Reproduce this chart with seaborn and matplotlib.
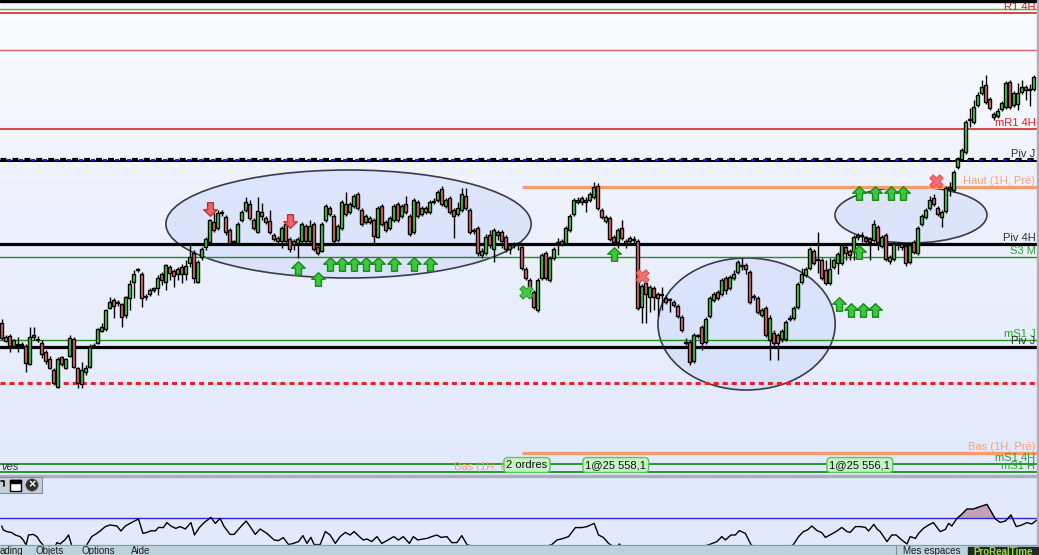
import numpy as np
import pandas as pd
import matplotlib
matplotlib.use("Agg")
import matplotlib.pyplot as plt
import seaborn as sns
from matplotlib.patches import Ellipse, Rectangle, Circle
from matplotlib.path import Path
from matplotlib.colors import LinearSegmentedColormap
import matplotlib.transforms as mtransforms

# ------------------------------------------------------------------ data
opens = [277,259,264,254,255,256,254,236,265,260,
         257,248,241,230,213,243,232,244,261,232,
         216,228,233,254,257,269,271,292,300,297,
         296,285,302,318,330,326,304,306,312,312,
         326,318,333,329,326,333,326,337,347,318,
         343,353,358,378,372,387,383,370,358,357,
         380,390,396,380,368,388,382,379,365,359,
         359,376,361,356,357,359,374,359,376,353,
         349,380,392,384,360,372,396,388,394,406,
         390,378,382,380,363,394,378,372,380,396,
         384,396,384,368,398,386,392,388,398,400,
         411,394,402,390,386,390,404,390,370,372,
         345,347,365,351,368,368,363,351,355,356,
         353,331,320,308,290,322,347,320,342,357,
         356,357,370,386,398,402,400,400,403,414,
         390,379,382,363,358,372,359,359,360,359,
         293,317,303,312,306,305,302,300,298,294,
         283,258,258,239,264,273,258,284,300,308,
         306,322,312,322,328,334,335,328,303,302,
         285,292,260,267,265,261,261,281,282,293,
         318,325,332,349,340,340,330,317,333,337,
         337,353,349,348,363,364,362,361,360,373,
         354,365,339,341,356,356,354,338,358,347,
         376,383,392,402,392,383,389,411,410,433,
         441,448,480,478,495,507,515,501,486,484,
         491,493,518,495,496,508,513,511,511]
highs = [281,265,266,261,263,258,256,273,273,264,
         260,250,244,232,243,244,242,265,263,233,
         238,235,256,257,272,277,291,303,302,300,
         297,304,320,330,332,328,306,312,313,325,
         328,336,335,331,333,336,340,355,350,340,
         353,363,381,387,390,390,385,372,360,378,
         390,403,400,382,403,397,384,390,367,364,
         374,378,363,361,363,378,376,380,378,355,
         378,396,394,386,376,400,408,398,406,408,
         392,386,384,382,394,396,380,384,396,398,
         396,404,386,402,400,394,394,400,402,410,
         414,402,404,392,398,412,412,392,372,374,
         352,366,370,372,370,370,365,357,358,358,
         356,333,322,310,322,347,349,344,353,362,
         361,374,386,402,403,404,403,408,418,417,
         392,385,384,365,372,380,361,364,364,361,
         316,319,315,314,308,313,305,302,300,296,
         285,262,260,267,266,275,283,304,308,310,
         322,324,325,330,340,342,337,330,306,304,
         292,294,285,270,267,271,280,285,294,318,
         332,333,353,351,368,342,340,342,342,348,
         357,355,351,365,367,368,364,363,380,375,
         365,367,345,358,358,358,356,357,360,374,
         386,392,404,406,394,390,414,418,430,443,
         452,480,492,500,508,520,525,503,488,492,
         499,519,520,509,517,520,515,516,525]
lows = [260,258,248,252,248,253,228,235,260,258,
        242,236,231,215,212,234,231,243,232,212,
        212,225,232,252,256,268,269,291,282,294,
        273,282,290,302,328,293,300,304,308,305,
        315,310,320,313,320,317,320,333,317,317,
        340,350,356,368,370,384,365,355,355,356,
        378,388,380,370,367,380,376,366,359,355,
        352,357,348,350,342,357,357,357,349,345,
        348,378,384,357,358,370,384,386,392,390,
        374,376,376,355,362,374,368,370,378,378,
        382,386,364,366,382,384,386,386,396,398,
        394,392,386,362,384,388,390,366,366,344,
        342,345,352,338,360,352,348,346,352,350,
        330,320,309,291,288,320,320,318,340,345,
        354,355,368,384,396,395,388,398,401,390,
        381,377,359,356,352,360,352,357,356,290,
        277,277,288,290,284,290,296,288,293,282,
        268,255,235,237,262,250,256,282,298,300,
        304,306,310,320,326,330,326,296,300,286,
        283,263,240,252,240,258,259,279,280,291,
        316,323,330,335,327,320,315,315,331,326,
        335,340,340,340,360,358,355,340,358,350,
        352,339,336,339,350,350,334,336,346,345,
        374,381,390,394,384,373,387,404,408,431,
        439,446,473,476,493,505,496,490,480,482,
        489,491,491,493,490,506,500,494,509]
closes = [262,263,254,260,256,255,237,263,263,261,
          246,239,232,217,241,236,241,262,233,217,
          230,232,253,255,271,273,290,298,294,297,
          283,303,316,326,330,302,303,310,310,322,
          320,335,327,324,331,326,334,343,322,338,
          351,361,380,370,387,388,368,357,358,376,
          388,398,382,372,389,384,378,368,361,362,
          372,359,351,359,361,376,359,374,351,347,
          376,394,386,359,374,398,386,396,404,392,
          376,384,378,364,392,376,370,382,394,380,
          394,388,366,400,384,392,388,398,399,408,
          396,400,388,384,392,406,392,368,369,347,
          349,363,355,370,365,359,351,355,355,356,
          332,322,311,293,320,345,322,342,351,358,
          359,372,384,400,400,398,398,406,413,392,
          383,383,361,358,370,362,357,362,360,292,
          314,306,313,303,302,305,298,300,295,284,
          270,257,238,265,264,257,281,302,306,302,
          320,310,323,326,338,334,331,298,303,288,
          290,265,282,257,257,269,278,282,292,316,
          326,331,351,337,340,322,317,331,340,346,
          355,347,345,363,365,364,359,358,376,358,
          363,341,343,356,356,353,337,355,348,372,
          384,390,400,396,386,388,412,413,428,441,
          450,478,481,493,505,513,498,492,483,489,
          497,517,493,507,507,513,510,510,523]

# horizontal reference levels (price units) and their right-hand labels
level_values = [591, 587, 550, 471, 440, 413, 356, 343, 260, 253, 217, 147, 136, 128]
level_labels = ["", "R1 4H", "", "mR1 4H", "Piv J", "Haut (1H, Pré)", "Piv 4H",
                "S3 M", "mS1 J", "Piv J", "", "Bas (1H, Pré)", "mS1 4H", "mS1 H"]
prev_hour_start = 130   # candle where the previous-hour high/low lines begin

# hand-drawn ellipses (candle index / price units)
ell_x = [86.7, 186.2, 227.3]
ell_y = [376, 276, 385]
ell_w = [91.3, 44.3, 38.0]
ell_h = [108, 132, 56]

# signals
buy_x = [74.1, 79.1, 82.1, 85.1, 88.1, 91.1, 94.1, 98.1, 103.1, 107.1, 153.1,
         214.3, 218.3, 222.3, 225.3, 214.3, 209.3, 212.3, 215.3, 218.3]
buy_y = [332, 321, 336, 336, 336, 336, 336, 336, 336, 336, 346,
         407, 407, 407, 407, 348, 296, 290, 290, 290]
sell_x = [52.1, 72.1]
sell_y = [391, 379]
exit_win_x, exit_win_y = [131.1], [308]
exit_loss_x, exit_loss_y = [160.1, 233.6], [324, 419]

order_labels = ["2 ordres", "1@25 558,1", "1@25 556,1"]
order_x = [131.3, 153.5, 214.5]
order_y = 135

# oscillator pane
ind_x = [0, 0.4, 1.3, 2.5, 3.4, 4.6, 5.4, 6.1, 6.7, 7.9, 8.8, 9.6, 10.4, 12.0, 13.8, 14.6, 15.9,
         16.7, 17.5, 19.6, 21.3, 22.5, 23.8, 24.6, 25.9, 27.1, 28.8, 29.8, 30.9, 32.1, 32.9, 34.2,
         35.3, 36.3, 37.5, 38.4, 39.2, 40.4, 41.3, 42.3, 43.5, 44.6, 45.9, 47.3, 48.2, 49.4, 50.6,
         52.3, 53.4, 54.6, 55.6, 57.1, 58.1, 59.6, 61.1, 62.1, 63.4, 64.6, 66.3, 68.1, 69.2, 70.4,
         71.7, 72.9, 74.2, 75.3, 76.3, 77.3, 78.1, 79.6, 80.9, 82.1, 83.4, 84.6, 85.9, 87.1, 88.1,
         89.4, 90.4, 91.3, 92.5, 93.8, 95.0, 96.3, 98.0, 99.2, 100.4, 101.9, 102.9, 104.0, 105.3,
         106.3, 107.5, 108.8, 109.8, 111.3, 112.5, 113.8, 115.0, 116.3, 127.0, 137.5, 138.8, 140.4,
         141.7, 143.4, 145.0, 146.3, 148.1, 149.2, 150.4, 151.7, 152.5, 153.5, 154.4, 155.3, 165.0,
         176.9, 178.8, 180.0, 180.9, 182.3, 183.4, 184.4, 185.9, 187.3, 192.0, 197.9, 199.2, 200.4,
         201.4, 202.5, 203.8, 205.0, 205.9, 207.3, 208.8, 210.0, 211.3, 212.1, 213.4, 214.6, 215.9,
         216.7, 218.0, 218.9, 219.6, 221.3, 222.5, 223.6, 225.0, 226.3, 227.1, 228.4, 229.2, 230.4,
         231.7, 232.9, 234.6, 235.9, 236.7, 237.5, 238.8, 239.8, 241.3, 242.9, 244.6, 246.3, 247.1,
         248.4, 249.6, 250.9, 252.3, 253.6, 255.0, 256.3, 257.5, 258.8]
ind_v = [66.0, 64.0, 63.2, 62.7, 61.5, 60.7, 59.0, 56.5, 61.5, 61.8, 60.7, 58.2, 56.3, 50, 57.7, 57.0, 59.3,
         61.5, 56.3, 50, 56.7, 60.7, 62.3, 63.5, 65.7, 66.5, 66.0, 63.5, 66.0, 67.3, 68.2, 69.5,
         62.3, 62.8, 63.7, 63.5, 65.3, 65.2, 67.7, 66.0, 64.8, 65.7, 64.5, 67.7, 61.5, 65.2, 67.7,
         70.3, 67.3, 69.8, 65.7, 61.8, 61.8, 65.3, 68.5, 65.7, 61.8, 64.5, 62.3, 59.0, 58.7, 60.2,
         56.7, 57.3, 58.2, 61.2, 57.3, 60.3, 56.7, 56.7, 63.2, 61.5, 57.3, 60.7, 62.8, 61.5, 63.2,
         60.7, 59.0, 59.5, 58.2, 60.7, 57.3, 58.7, 60.7, 59.0, 60.7, 57.3, 60.7, 59.0, 59.5,
         59.8, 60.7, 61.5, 60.3, 60.7, 57.7, 57.7, 61.2, 56.7, 50, 56.7, 59.0, 59.8,
         60.7, 65.2, 65.2, 65.7, 67.3, 61.5, 60.3, 57.3, 56.3, 55, 57.0, 55, 50,
         56.7, 58.2, 60.7, 59.0, 61.5, 61.5, 63.7, 62.3, 56.7, 50, 56.7, 60.7, 63.2,
         64.0, 66.0, 63.7, 62.7, 60.3, 61.8, 63.5, 65.3, 63.2, 62.8, 65.7, 65.7, 65.3,
         63.5, 66.8, 64.3, 63.2, 58.2, 61.5, 61.5, 59.0, 57.0, 60.7, 59.8, 62.3, 64.8,
         66.5, 67.7, 63.2, 64.3, 67.3, 66.0, 69.8, 71.5, 74.5, 74.5, 75.7, 76.8, 74.0,
         69.5, 67.8, 68.5, 71.5, 65.7, 66.5, 67.7, 67.0, 69.0]
ind_level = 70

# ------------------------------------------------------------------ style
W, H = 1039, 555
sns.set_style("white")
plt.rcParams['font.family'] = ['Liberation Sans', 'DejaVu Sans']
plt.rcParams['lines.scale_dashes'] = False

fig = plt.figure(figsize=(W / 100, H / 100), dpi=100, facecolor='#F6F8FC')


def box(x0, y0, x1, y1):
    return [x0 / W, 1 - y1 / H, (x1 - x0) / W, (y1 - y0) / H]


XLIM = (-0.425, 258.8)
ax = fig.add_axes(box(0, 2, 1037, 475))
iax = fig.add_axes(box(0, 477, 1037, 545))

# background gradient of price pane
grad = np.linspace(0, 1, 256).reshape(-1, 1)
bg = LinearSegmentedColormap.from_list('bg', ['#E2E9FC', '#ECF0FD', '#FBFCFF'])
ax.imshow(grad, extent=(0, 1, 0, 1), transform=ax.transAxes, cmap=bg,
          aspect='auto', origin='lower', zorder=0)

o = np.array(opens, float); h = np.array(highs, float)
l = np.array(lows, float); c = np.array(closes, float)
idx = np.arange(len(o))

# ellipses
for ex, ey, ew, eh in zip(ell_x, ell_y, ell_w, ell_h):
    ax.add_patch(Ellipse((ex, ey), ew, eh, facecolor=(0.78, 0.84, 0.98, 0.45),
                         edgecolor='#3A3C48', lw=1.2, zorder=1))

# levels
blend = mtransforms.blended_transform_factory(ax.transAxes, ax.transData)
green = '#1E8C1E'
lab_green = '#2BA02B'
red = '#D81414'
orange = '#F89A6A'
dark = '#2E2E2E'
line_styles = [
    dict(color='#4DB04D', lw=1.0),
    dict(color=red, lw=1.1),
    dict(color='#E06464', lw=1.0),
    dict(color=red, lw=1.1),
    None,  # pivot J (composite)
    dict(color=orange, lw=2.3),
    dict(color='black', lw=2.3),
    dict(color=green, lw=1.0),
    dict(color=green, lw=1.0),
    dict(color='black', lw=2.3),
    dict(color='#E82020', lw=2.2, linestyle=(0, (3.6, 2.9))),
    dict(color=orange, lw=2.3),
    dict(color=green, lw=1.3),
    dict(color=green, lw=1.3),
]
label_colors = [None, '#E81818', None, '#E81818', dark, '#F5A476', dark,
                lab_green, lab_green, dark, None, '#F5A476', lab_green, lab_green]

for k, (val, lab) in enumerate(zip(level_values, level_labels)):
    st = line_styles[k]
    if st is None:
        ax.axhline(val - 1, color='black', lw=1.4, zorder=2.5)
        ax.axhline(val + 1.5, color='black', lw=2.3, linestyle=(0, (4.3, 4.3)), zorder=2.6)
        ax.axhline(val + 0.2, color='#1414E6', lw=1.5, linestyle=(3.56, (2.9, 5.74)), zorder=2.7)
    elif lab.startswith(('Haut', 'Bas')):
        ax.hlines(val, prev_hour_start, XLIM[1], zorder=2.5, **st)
    else:
        ax.axhline(val, zorder=2.5, **st)
    if lab:
        ax.text(0.9985, val + 1.2, lab, transform=blend, ha='right', va='bottom',
                fontsize=8, color=label_colors[k], zorder=7)

# candles
up = c >= o
body_lo = np.minimum(o, c)
body_h = np.maximum(np.abs(c - o), 0.7)
ax.vlines(idx, l, h, color='black', lw=1.0, zorder=3)
ax.bar(idx[up], body_h[up], bottom=body_lo[up], width=0.84, color='#50D250',
       edgecolor='black', linewidth=1.0, zorder=4)
ax.bar(idx[~up], body_h[~up], bottom=body_lo[~up], width=0.84, color='#E26E6E',
       edgecolor='black', linewidth=1.0, zorder=4)

# signal markers
arrow_up = Path([(-0.22, -0.5), (0.22, -0.5), (0.22, 0.02), (0.5, 0.02), (0, 0.5),
                 (-0.5, 0.02), (-0.22, 0.02), (-0.22, -0.5)],
                [Path.MOVETO] + [Path.LINETO] * 6 + [Path.CLOSEPOLY])
arrow_dn = Path([(x, -y) for x, y in arrow_up.vertices], arrow_up.codes)
ax.scatter(buy_x, buy_y, marker=arrow_up, s=95, facecolor='#3CC83C',
           edgecolor='#178A17', linewidth=1.0, zorder=5)
ax.scatter(sell_x, sell_y, marker=arrow_dn, s=95, facecolor='#F06464',
           edgecolor='#C03434', linewidth=1.0, zorder=5)
ax.scatter(exit_win_x, exit_win_y, marker='X', s=90, facecolor='#46C846',
           edgecolor='#2A9A2A', linewidth=0.8, zorder=5)
ax.scatter(exit_loss_x, exit_loss_y, marker='X', s=90, facecolor='#F07070',
           edgecolor='#E05050', linewidth=0.8, zorder=5)

# order tags
ax.text(130.0, order_y - 2, 'Bas (1H, Pré)', ha='right', va='center', fontsize=8,
        color='#F5A476', zorder=5)
ax.text(0.001, order_y - 2, 'ves', transform=blend, ha='left', va='center', fontsize=8,
        color='#303030', style='italic', zorder=5)
for lab, ox in zip(order_labels, order_x):
    ax.text(ox, order_y, lab, ha='center', va='center', fontsize=8, color='#111111', zorder=6,
            bbox=dict(boxstyle='round,pad=0.22,rounding_size=0.35', fc='#C8F2C8',
                      ec='#58C858', lw=1.0))

ax.set_xlim(*XLIM)
ax.set_ylim(125, 598)
ax.axis('off')

# ------------------------------------------------------------------ oscillator pane
iax.set_facecolor('#E3E9FC')
iax.axhline(ind_level, color='#2A2AE6', lw=1.0, zorder=2)
iv = np.array(ind_v)
ix = np.array(ind_x)
iax.fill_between(ix, ind_level, iv, where=iv > ind_level, interpolate=True,
                 color='#C2A2B4', zorder=1)
sns.lineplot(x=ix, y=iv, ax=iax, color='black', lw=1.0, estimator=None, sort=False, zorder=3)
iax.set_xlim(*XLIM)
iax.set_ylim(56.5, 90.5)
iax.set_xticks([]); iax.set_yticks([])
iax.set_xlabel(''); iax.set_ylabel('')
for s in iax.spines.values():
    s.set_visible(False)

# ------------------------------------------------------------------ window chrome
deco = fig.add_axes([0, 0, 1, 1], zorder=10)
deco.set_xlim(0, W); deco.set_ylim(H, 0); deco.axis('off')
deco.add_patch(Rectangle((0, 0), W, 2, color='black'))
deco.add_patch(Rectangle((0, 475), 1037, 2, color='#A8B1BB'))
deco.add_patch(Rectangle((1037, 0), 1.2, 545, color='#A8B1BB'))
# toolbar
deco.add_patch(Rectangle((-2, 477), 44, 16, fc='#C6CFD8', ec='#7F8E9B', lw=0.8))
deco.plot([1, 4, 4], [481, 481, 486], color='black', lw=1.2)
deco.add_patch(Rectangle((10, 479.5), 11, 11.5, fc='white', ec='black', lw=1.0))
deco.add_patch(Rectangle((10, 479.5), 11, 3, color='black'))
deco.add_patch(Circle((32, 485), 6.3, fc='#2E2E2E', ec='#888888', lw=0.5))
deco.text(32, 485.3, '×', color='white', ha='center', va='center', fontsize=9, fontweight='bold')
# menu bar
deco.add_patch(Rectangle((0, 545), W, 10, color='#BCD2DD'))
deco.plot([0, W], [545.3, 545.3], color='#8A9CA8', lw=0.8)
for txt, xx in zip(['ading', 'Objets', 'Options', 'Aide'], [0, 35, 81, 131]):
    deco.text(xx, 545.8, txt, ha='left', va='top', fontsize=7, color='#1E1E1E')
deco.plot([896, 896], [546, 555], color='#7E909C', lw=0.8)
deco.text(903, 545.8, 'Mes espaces', ha='left', va='top', fontsize=7, color='#1E1E1E')
deco.add_patch(Rectangle((968, 547), 71, 8, color='#1F2D1F'))
deco.text(973, 546.8, 'ProRealTime', ha='left', va='top', fontsize=7, color='#98D64A',
          fontweight='bold')

fig.savefig('out.png', dpi=100, facecolor=fig.get_facecolor())
